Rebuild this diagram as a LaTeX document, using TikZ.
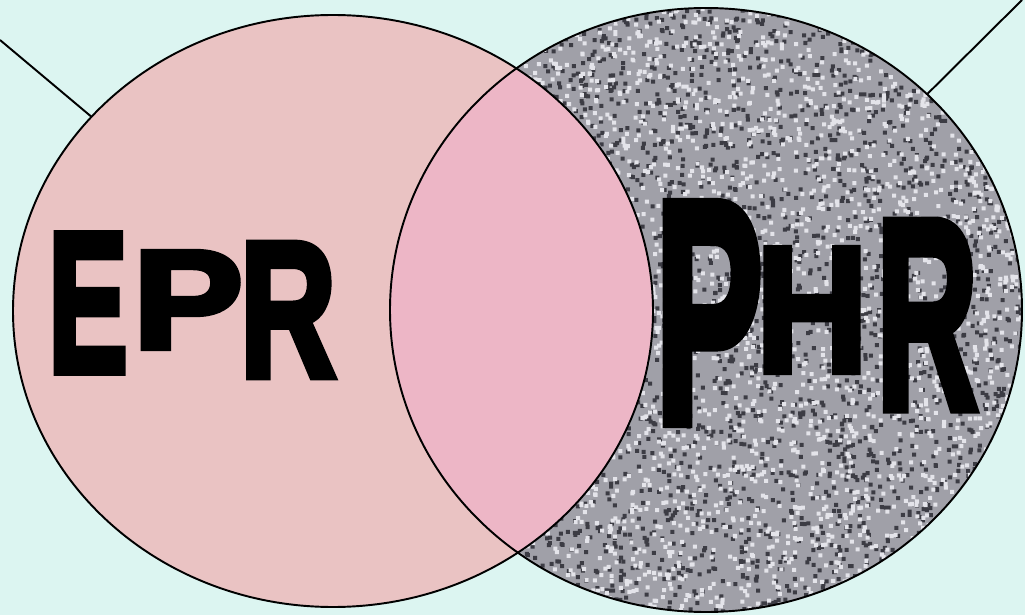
\documentclass[tikz,border=0pt]{standalone}
\usepackage{fontspec}
\newfontfamily\heavyfont[FakeBold=4]{Liberation Sans Bold}
\usetikzlibrary{calc}
\definecolor{vbg}{HTML}{DCF5F1}
\definecolor{vpink}{HTML}{EAC3C3}
\definecolor{vlens}{HTML}{EDB6C6}
\definecolor{vgray}{HTML}{A0A0A8}
\definecolor{vdark}{HTML}{3C3C44}
\definecolor{vlight}{HTML}{E4E4EA}
\tikzset{
  glyph/.style={inner sep=0pt, text=black, font=\heavyfont\fontsize{40}{40}\selectfont},
  rim/.style={draw=black, line width=1.1pt},
  tick/.style={black, line width=1.1pt},
}

\begin{document}
\begin{tikzpicture}[x=0.02cm, y=-0.02cm]
  \fill[vbg] (0,0) rectangle (1025,615);
  \useasboundingbox (0,0) rectangle (1025,615);
  \coordinate (cL) at (333,311);
  \coordinate (cR) at (706,310);

  % noisy grey set
  \begin{scope}
    \clip (cR) ellipse [x radius=316, y radius=302];
    \fill[vgray] (390,8) rectangle (1025,613);
    \pgfmathsetseed{7}
    \fill[vdark] \foreach \i in {1,...,3400}{ (388+637*rnd, 6+607*rnd) rectangle ++(4,4) };
    \fill[vlight] \foreach \i in {1,...,3400}{ (388+637*rnd, 6+607*rnd) rectangle ++(4,4) };
  \end{scope}

  \fill[vpink] (cL) ellipse [x radius=320, y radius=296];
  \begin{scope}
    \clip (cL) ellipse [x radius=320, y radius=296];
    \fill[vlens] (cR) ellipse [x radius=316, y radius=302];
  \end{scope}
  \draw[rim] (cR) ellipse [x radius=316, y radius=302];
  \draw[rim] (cL) ellipse [x radius=320, y radius=296];

  \coordinate (tl) at (0,40);
  \coordinate (tr) at (1022,0);
  \coordinate (aL) at ($(cL)+(221:320 and 296)$);
  \coordinate (aR) at ($(cR)+(314.4:316 and 302)$);
  \draw[tick] (tl) -- (aL);
  \draw[tick] (tr) -- (aR);

  \node[glyph, xscale=1.7, yscale=2.85] (eE) at (88,303) {E};
  \node[glyph, xscale=2.35, yscale=2.0] (eP) at (188,300) {P};
  \node[glyph, xscale=1.9, yscale=2.75] (eR) at (288,310) {R};

  \node[glyph, xscale=2.3, yscale=4.5] (pP) at (709,313) {P};
  \node[glyph, xscale=2.2, yscale=2.55] (pH) at (812,310) {H};
  \node[glyph, xscale=2.0, yscale=3.85] (pR) at (927,315) {R};
\end{tikzpicture}
\end{document}
